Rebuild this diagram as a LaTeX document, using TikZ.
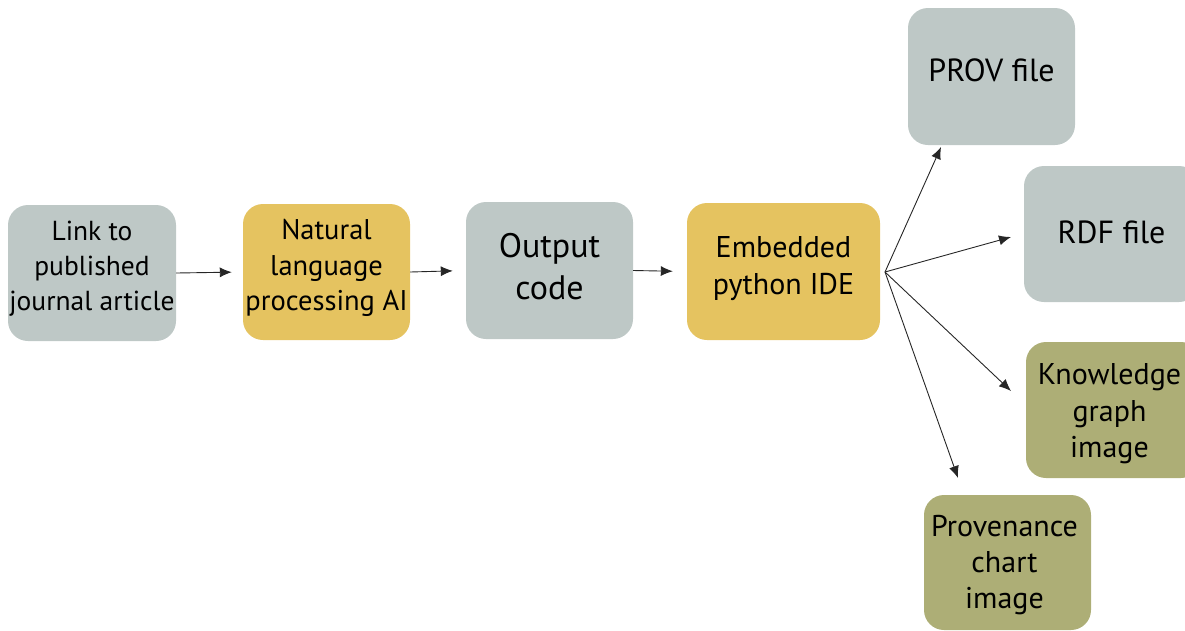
\documentclass[tikz,border=0pt]{standalone}
\usepackage{fontspec}
\setmainfont{PT Sans}
\usetikzlibrary{arrows.meta}
\definecolor{boxgray}{RGB}{190,200,198}
\definecolor{boxyellow}{RGB}{229,195,96}
\definecolor{boxolive}{RGB}{173,174,118}
\newcommand{\fs}[2]{\fontsize{#1}{#2}\selectfont}
\tikzset{
  card/.style={rectangle, rounded corners=20pt, draw=none, inner sep=0pt},
  caption/.style={align=center, inner sep=0pt, text=black},
  arr/.style={draw=black!85, line width=0.9pt, -{Latex[length=12pt,width=10pt]}},
}
\begin{document}
\begin{tikzpicture}[x=1pt,y=-1pt]
\useasboundingbox (0,0) rectangle (1185,630);
% main chain boxes
\node[card, fill=boxgray, minimum width=168pt, minimum height=136pt] (link) at (92,273) {};
\node[card, fill=boxyellow, minimum width=167pt, minimum height=136pt] (nlp) at (326.5,272) {};
\node[card, fill=boxgray, minimum width=167pt, minimum height=137pt] (code) at (549.5,270.5) {};
\node[card, fill=boxyellow, minimum width=193pt, minimum height=137pt] (ide) at (783.5,271.5) {};
% output boxes
\node[card, fill=boxgray, minimum width=167pt, minimum height=137pt] (prov) at (991.5,76.5) {};
\node[card, fill=boxgray, minimum width=175pt, minimum height=136pt] (rdf) at (1111.5,234) {};
\node[card, fill=boxolive, minimum width=175pt, minimum height=136pt] (kg) at (1113.5,410) {};
\node[card, fill=boxolive, minimum width=167pt, minimum height=135pt] (pc) at (1007.5,562.5) {};
% captions
\node[caption, font=\fs{27.5}{35}] (linkt) at ([yshift=4pt]link.center) {Link to\\published\\journal article};
\node[caption, font=\fs{28.5}{35.5}] (nlpt) at ([yshift=4pt]nlp.center) {Natural\\language\\processing AI};
\node[caption, font=\fs{34}{42}] (codet) at ([yshift=4pt]code.center) {Output\\code};
\node[caption, font=\fs{30}{37}] (idet) at ([yshift=3pt]ide.center) {Embedded\\python IDE};
\node[caption, font=\fs{32}{40}] (provt) at ([yshift=6pt]prov.center) {PROV file};
\node[caption, font=\fs{32}{40}] (rdft) at ([yshift=2pt]rdf.center) {RDF file};
\node[caption, font=\fs{30}{36.5}] (kgt) at ([yshift=-4pt,xshift=-4pt]kg.center) {Knowledge\\graph\\image};
\node[caption, font=\fs{30}{36}] (pct) at ([yshift=-3pt,xshift=-3pt]pc.center) {Provenance\\chart\\image};
% chain connectors
\draw[arr, shorten >=11pt] (link.east) -- (nlp.west);
\draw[arr, shorten >=13pt] (nlp.east) -- (code.west);
\draw[arr, shorten >=14pt] (code.east) -- (ide.west);
% fan-out from the IDE
\coordinate (fan) at (885,272);
\coordinate (tprov) at (941,147);
\coordinate (trdf) at (1011,237);
\coordinate (tkg) at (1011,391);
\coordinate (tpc) at (958,478);
\draw[arr] (fan) -- (tprov);
\draw[arr] (fan) -- (trdf);
\draw[arr] (fan) -- (tkg);
\draw[arr] (fan) -- (tpc);
\end{tikzpicture}
\end{document}
